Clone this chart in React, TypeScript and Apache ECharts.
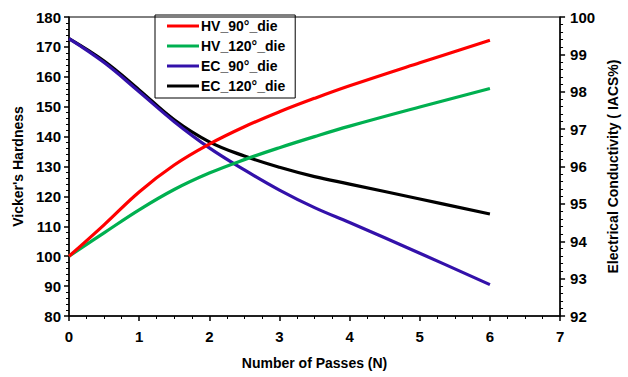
import React, { useEffect, useRef } from "react";
import * as echarts from "echarts";

const passes = [0, 0.5, 1, 1.5, 2, 2.5, 3, 3.5, 4, 5, 6];
const hv90 = [100, 110.5, 121.5, 130.5, 137.5, 143.3, 148.3, 152.8, 157, 164.7, 172.2];
const hv120 = [100, 107.8, 115.5, 122.3, 127.8, 132.3, 136.3, 140, 143.5, 149.9, 156.1];
const ec90 = [99.42, 98.78, 98.0, 97.2, 96.5, 95.91, 95.37, 94.9, 94.5, 93.68, 92.84];
const ec120 = [99.42, 98.82, 98.05, 97.25, 96.66, 96.28, 95.98, 95.73, 95.53, 95.13, 94.73];
const seriesNames = ["HV_90°_die", "HV_120°_die", "EC_90°_die", "EC_120°_die"];
const seriesColors = ["#ff0000", "#00b050", "#3311aa", "#000000"];

const FONT = "'Liberation Sans', Arial, sans-serif";

export default function App() {
  const ref = useRef<HTMLDivElement>(null);
  useEffect(() => {
    if (!ref.current) return;
    const chart = echarts.init(ref.current, undefined, { renderer: "svg" });
    const allData = [hv90, hv120, ec90, ec120];
    const axisLabel = { color: "#000", fontSize: 15, fontWeight: "bold" as const, fontFamily: FONT };
    const nameStyle = { color: "#000", fontSize: 14, fontWeight: "bold" as const, fontFamily: FONT };
    chart.setOption({
      animation: false,
      backgroundColor: "#fff",
      grid: { left: 69, right: 64, top: 17, bottom: 61, show: true, borderColor: "#000", borderWidth: 1 },
      legend: {
        data: seriesNames,
        orient: "vertical",
        left: 155,
        top: 15,
        itemWidth: 32,
        itemHeight: 3,
        itemGap: 6,
        icon: "rect",
        borderColor: "#000",
        borderWidth: 1,
        padding: [4, 10, 5, 12],
        textStyle: { color: "#000", fontSize: 14, fontWeight: "bold", fontFamily: FONT, padding: [0, 0, 0, -3] },
      },
      xAxis: {
        type: "value",
        min: 0,
        max: 7,
        interval: 1,
        name: "Number of Passes (N)",
        nameLocation: "middle",
        nameGap: 40,
        nameTextStyle: nameStyle,
        axisLine: { lineStyle: { color: "#000", width: 1.5 } },
        axisTick: { lineStyle: { color: "#000", width: 1.5 }, length: 5 },
        minorTick: { show: true, splitNumber: 4, length: 3, lineStyle: { color: "#000" } },
        splitLine: { show: false },
        axisLabel: { ...axisLabel, margin: 13 },
      },
      yAxis: [
        {
          type: "value",
          min: 80,
          max: 180,
          interval: 10,
          name: "Vicker's Hardness",
          nameLocation: "middle",
          nameGap: 44,
          nameTextStyle: nameStyle,
          axisLine: { show: true, lineStyle: { color: "#000", width: 1.5 } },
          axisTick: { show: true, lineStyle: { color: "#000", width: 1.5 }, length: 5 },
          minorTick: { show: true, splitNumber: 5, length: 3, lineStyle: { color: "#000" } },
          splitLine: { show: false },
          axisLabel: { ...axisLabel, margin: 8 },
        },
        {
          type: "value",
          min: 92,
          max: 100,
          interval: 1,
          name: "Electrical Conductivity ( IACS%)",
          nameLocation: "middle",
          nameGap: 44,
          nameTextStyle: nameStyle,
          axisLine: { show: true, lineStyle: { color: "#000", width: 1.5 } },
          axisTick: { show: true, lineStyle: { color: "#000", width: 1.5 }, length: 5 },
          minorTick: { show: true, splitNumber: 5, length: 3, lineStyle: { color: "#000" } },
          splitLine: { show: false },
          axisLabel: { ...axisLabel, margin: 10 },
        },
      ],
      series: seriesNames.map((name, i) => ({
        name,
        type: "line",
        yAxisIndex: i < 2 ? 0 : 1,
        smooth: 0.4,
        showSymbol: false,
        symbol: "none",
        color: seriesColors[i],
        lineStyle: { width: 3.2, color: seriesColors[i] },
        data: passes.map((p, j) => [p, allData[i][j]]),
        z: 4 - i,
      })),
    });
    return () => chart.dispose();
  }, []);
  return <div ref={ref} style={{ width: 628, height: 377, position: "absolute", left: 0, top: 0 }} />;
}
